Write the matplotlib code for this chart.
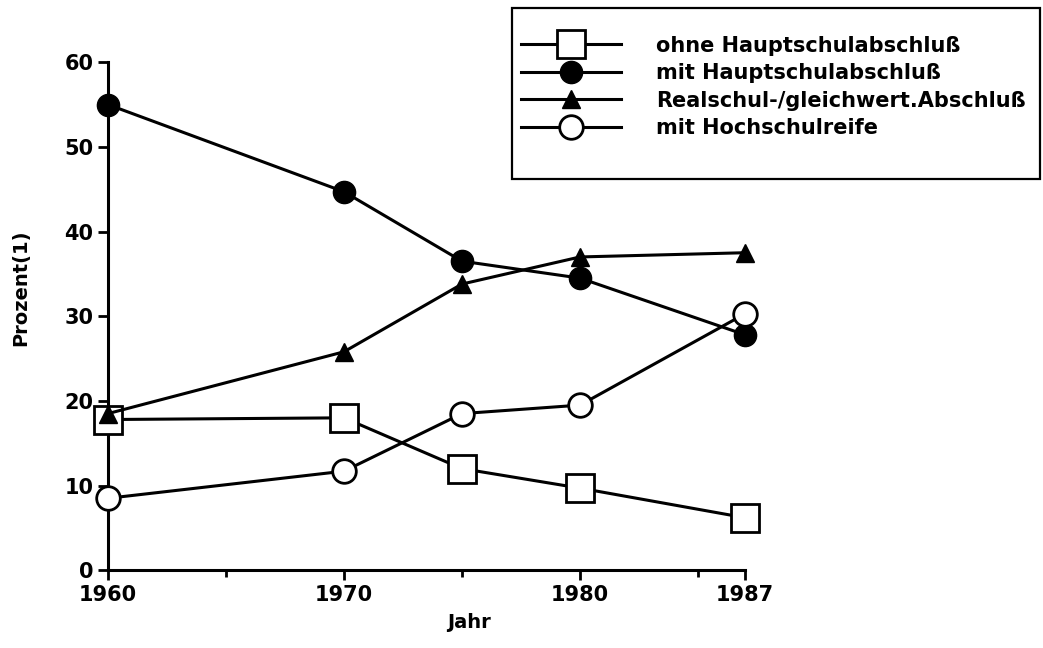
import matplotlib
matplotlib.use("Agg")
import matplotlib.pyplot as plt
from matplotlib.patches import Rectangle

plt.rcParams['font.family'] = ['DejaVu Sans']
plt.rcParams['font.weight'] = 'bold'

years = [1960, 1970, 1975, 1980, 1987]
ohne_hs = [17.8, 18.0, 12.0, 9.7, 6.2]
mit_hs = [55.0, 44.7, 36.5, 34.5, 27.8]
realschul = [18.5, 25.8, 33.8, 37.0, 37.5]
hochschulreife = [8.5, 11.7, 18.5, 19.5, 30.3]

labels = ["ohne Hauptschulabschluß", "mit Hauptschulabschluß",
          "Realschul-/gleichwert.Abschluß", "mit Hochschulreife"]
xtick_pos = [1960, 1970, 1980, 1987]

fig = plt.figure(figsize=(10.43, 6.48), dpi=100)
ax = fig.add_axes([0.1035, 0.12, 0.611, 0.784])

lw = 2.2
ax.plot(years, ohne_hs, color='black', lw=lw, marker='s', ms=20,
        mfc='white', mec='black', mew=2, label=labels[0], zorder=3)
ax.plot(years, mit_hs, color='black', lw=lw, marker='o', ms=16,
        mfc='black', mec='black', label=labels[1], zorder=3)
ax.plot(years, realschul, color='black', lw=lw, marker='^', ms=13,
        mfc='black', mec='black', label=labels[2], zorder=3)
ax.plot(years, hochschulreife, color='black', lw=lw, marker='o', ms=17,
        mfc='white', mec='black', mew=2, label=labels[3], zorder=3)

ax.set_xlim(1960, 1987)
ax.set_ylim(0, 60)
ax.set_yticks(range(0, 61, 10))
ax.set_xticks(xtick_pos)
ax.set_xticks([1965, 1975, 1985], minor=True)
ax.tick_params(axis='both', labelsize=15, width=2, length=7)
ax.tick_params(axis='x', which='minor', width=2, length=5)
for lab in ax.get_xticklabels() + ax.get_yticklabels():
    lab.set_fontweight('bold')

for s in ['top', 'right']:
    ax.spines[s].set_visible(False)
for s in ['left', 'bottom']:
    ax.spines[s].set_linewidth(2.2)
ax.patch.set_alpha(0)
for ln in ax.lines:
    ln.set_clip_on(False)

ax.set_xlabel("Jahr", fontsize=14, fontweight='bold')
ax.set_ylabel("Prozent(1)", fontsize=14, fontweight='bold')
ax.xaxis.set_label_coords(0.567, -0.085)
ax.yaxis.set_label_coords(-0.122, 0.557)

# legend box drawn separately so the padding can match the original
fig.patches.append(Rectangle((0.491, 0.724), 0.506, 0.263, transform=fig.transFigure,
                             fill=False, edgecolor='black', linewidth=1.6))
leg = fig.legend(loc='upper left', bbox_to_anchor=(0.4995, 0.945),
                 fontsize=15, handlelength=4.8, labelspacing=0.36,
                 borderpad=0, handletextpad=1.7, borderaxespad=0,
                 frameon=False)
for t in leg.get_texts():
    t.set_fontweight('bold')

fig.savefig("out.png", dpi=100)
